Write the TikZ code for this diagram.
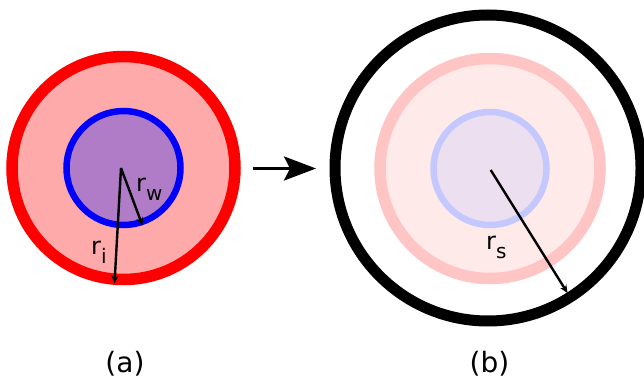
\documentclass[tikz,border=0pt]{standalone}
\usepackage{fontspec}
\setmainfont{DejaVu Sans}
\usetikzlibrary{arrows.meta}
\definecolor{ringred}{HTML}{FF0000}
\definecolor{fillpink}{HTML}{FFAAAA}
\definecolor{ringblue}{HTML}{0000FF}
\definecolor{fillpurple}{HTML}{B07CC8}
\definecolor{paleringred}{HTML}{FFC4C4}
\definecolor{palefillpink}{HTML}{FFEAEA}
\definecolor{paleringblue}{HTML}{C4C8FF}
\definecolor{palefillpurple}{HTML}{EBDFF0}
\newcommand\mysub[1]{\raisebox{-9pt}{\fontsize{20}{20}\selectfont #1}}
\begin{document}
\begin{tikzpicture}[x=1pt,y=-1pt,
  lbl/.style={font=\fontsize{24}{24}\selectfont, inner sep=0pt, anchor=base west},
  captext/.style={font=\fontsize{28}{28}\selectfont, inner sep=0pt, anchor=base},
  radarrow/.style={line width=2.4pt, -{Stealth[length=8pt,width=7pt]}},
  bigarrow/.style={line width=3pt, -{Stealth[length=32pt,width=24pt,inset=6pt]}}]
\useasboundingbox (0,0) rectangle (644,379);
% (a)
\coordinate (ca) at (123.5,168);
\draw[ringred, fill=fillpink, line width=11.5pt] (ca) circle[radius=111.5];
\draw[ringblue, fill=fillpurple, line width=6.5pt] (ca) circle[radius=57];
\coordinate (oa) at (121,168);
\coordinate (wtip) at (142.5,225.5);
\coordinate (itip) at (114.5,283.5);
\draw[radarrow] (oa) -- (wtip);
\draw[radarrow] (oa) -- (itip);
\node[lbl] (rw) at (136,191.7) {r\mysub{w}};
\node[lbl] (ri) at (91,254) {r\mysub{i}};
% middle arrow
\coordinate (m1) at (253,168.5);
\coordinate (m2) at (316,168.5);
\draw[bigarrow] (m1) -- (m2);
% (b)
\coordinate (cb) at (488,168);
\draw[black, line width=11pt] (cb) circle[radius=153];
\coordinate (cp) at (490,168.5);
\draw[paleringred, fill=palefillpink, line width=11.5pt] (cp) circle[radius=110];
\draw[paleringblue, fill=palefillpurple, line width=6.5pt] (cp) circle[radius=56.5];
\coordinate (ob) at (490.7,170);
\coordinate (stip) at (567.5,293);
\draw[radarrow] (ob) -- (stip);
\node[lbl] (rs) at (486,249.7) {r\mysub{s}};
% captions
\node[captext] (capa) at (125,372) {(a)};
\node[captext] (capb) at (489.5,372) {(b)};
\end{tikzpicture}
\end{document}
